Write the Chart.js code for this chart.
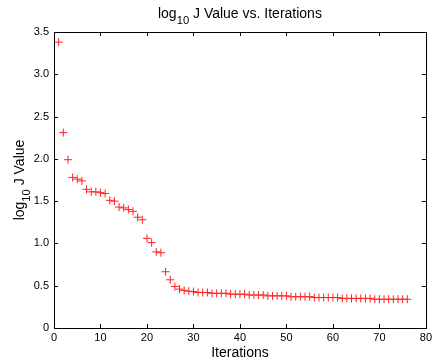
<!DOCTYPE html>
<html>
<head>
<meta charset="utf-8">
<script src="https://cdn.jsdelivr.net/npm/chart.js@4"></script>
<style>
  html, body { margin: 0; padding: 0; background: #fff; }
  #wrap { width: 435px; height: 362px; }
</style>
</head>
<body>
<div id="wrap"><canvas id="chart" width="435" height="362"></canvas></div>
<script>
// log10 J value per iteration (iteration = position in the list, starting at 1)
const jValues = [
  3.38, 2.31, 1.99, 1.78, 1.76, 1.74, 1.64, 1.61, 1.61, 1.60,
  1.59, 1.51, 1.50, 1.43, 1.42, 1.40, 1.38, 1.31, 1.28, 1.06,
  1.01, 0.90, 0.89, 0.665, 0.57, 0.49, 0.46, 0.445, 0.435, 0.43,
  0.42, 0.42, 0.42, 0.41, 0.41, 0.41, 0.41, 0.40, 0.40, 0.40,
  0.40, 0.39, 0.39, 0.39, 0.39, 0.38, 0.38, 0.38, 0.38, 0.38,
  0.37, 0.37, 0.37, 0.37, 0.37, 0.36, 0.36, 0.36, 0.36, 0.36,
  0.36, 0.35, 0.35, 0.35, 0.35, 0.35, 0.35, 0.35, 0.34, 0.34,
  0.34, 0.34, 0.34, 0.34, 0.34, 0.34
];
const xTicks = [0, 10, 20, 30, 40, 50, 60, 70, 80];
const yTicks = [0, 0.5, 1, 1.5, 2, 2.5, 3, 3.5];

const points = jValues.map((v, i) => ({ x: i + 1, y: v }));
const FONT = "'Liberation Sans', Arial, Helvetica, sans-serif";

// draws text like "log" + subscript "10" + rest, centred on x
function drawSubText(ctx, parts, x, y, size) {
  let total = 0;
  parts.forEach(p => {
    ctx.font = (p.sub ? size * 0.8 : size) + "px " + FONT;
    total += ctx.measureText(p.t).width;
  });
  let cx = x - total / 2;
  parts.forEach(p => {
    ctx.font = (p.sub ? size * 0.8 : size) + "px " + FONT;
    ctx.fillText(p.t, cx, p.sub ? y + size * 0.4 : y);
    cx += ctx.measureText(p.t).width;
  });
}

const matlabFrame = {
  id: "matlabFrame",
  afterDraw(chart) {
    const ctx = chart.ctx;
    const a = chart.chartArea;
    const xs = chart.scales.x, ys = chart.scales.y;
    ctx.save();
    ctx.strokeStyle = "#000";
    ctx.lineWidth = 1;
    ctx.strokeRect(Math.round(a.left) + 0.5, Math.round(a.top) + 0.5,
      Math.round(a.right - a.left), Math.round(a.bottom - a.top));
    ctx.beginPath();
    xTicks.forEach(t => {
      const px = Math.round(xs.getPixelForValue(t)) + 0.5;
      ctx.moveTo(px, a.bottom); ctx.lineTo(px, a.bottom - 4);
      ctx.moveTo(px, a.top); ctx.lineTo(px, a.top + 4);
    });
    yTicks.forEach(t => {
      const py = Math.round(ys.getPixelForValue(t)) + 0.5;
      ctx.moveTo(a.left, py); ctx.lineTo(a.left + 4, py);
      ctx.moveTo(a.right, py); ctx.lineTo(a.right - 4, py);
    });
    ctx.stroke();

    // title
    ctx.fillStyle = "#000";
    ctx.textBaseline = "alphabetic";
    ctx.textAlign = "left";
    drawSubText(ctx, [{ t: "log" }, { t: "10", sub: true }, { t: " J Value vs. Iterations" }],
      (a.left + a.right) / 2, 18, 14);

    // y axis label
    ctx.translate(24, (a.top + a.bottom) / 2);
    ctx.rotate(-Math.PI / 2);
    drawSubText(ctx, [{ t: "log" }, { t: "10", sub: true }, { t: " J Value" }], 0, 0, 14);
    ctx.restore();
  }
};

new Chart(document.getElementById("chart"), {
  type: "scatter",
  data: {
    datasets: [{
      data: points,
      pointStyle: "cross",
      pointRadius: 4,
      pointHoverRadius: 4,
      pointBorderWidth: 1,
      borderColor: "#ff2020",
      backgroundColor: "#ff2020"
    }]
  },
  options: {
    responsive: false,
    animation: false,
    layout: { padding: { top: 32, right: 5, left: 0, bottom: 0 } },
    plugins: { legend: { display: false }, tooltip: { enabled: false }, title: { display: false } },
    scales: {
      x: {
        type: "linear", min: 0, max: 80,
        afterBuildTicks: s => { s.ticks = xTicks.map(v => ({ value: v })); },
        afterFit: s => { s.height = 34; },
        grid: { display: false, drawTicks: false },
        border: { display: false },
        ticks: { color: "#000", font: { family: FONT, size: 11 }, padding: 3, maxRotation: 0 },
        title: { display: true, text: "Iterations", color: "#000", font: { family: FONT, size: 14 }, padding: { top: 0, bottom: 0 } }
      },
      y: {
        min: 0, max: 3.5,
        afterBuildTicks: s => { s.ticks = yTicks.map(v => ({ value: v })); },
        afterFit: s => { s.width = 54; },
        grid: { display: false, drawTicks: false },
        border: { display: false },
        ticks: { color: "#000", font: { family: FONT, size: 11 }, padding: 5 }
      }
    }
  },
  plugins: [matlabFrame]
});
</script>
</body>
</html>
